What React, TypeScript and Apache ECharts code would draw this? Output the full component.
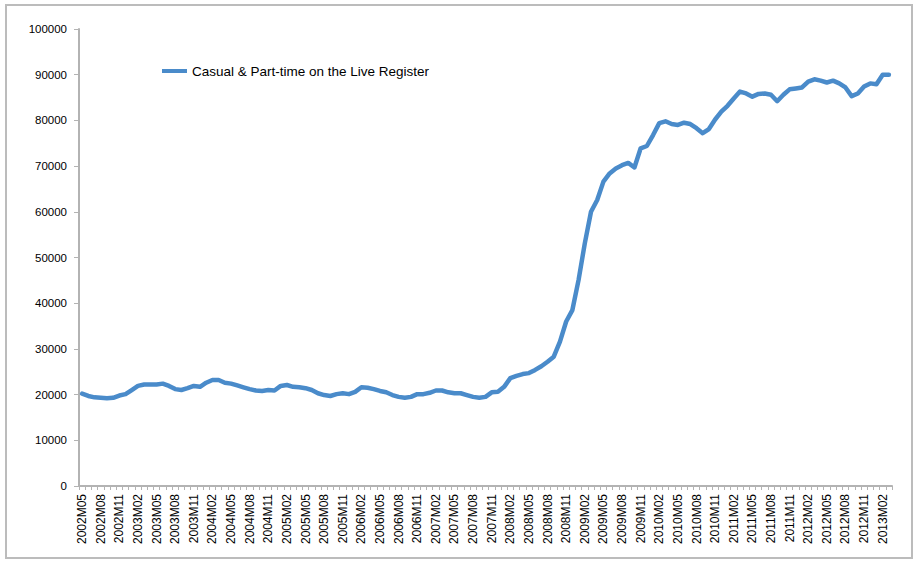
import React, { useEffect, useRef } from "react";
import * as echarts from "echarts";

const startYear = 2002;
const startMonth = 5;
const monthCount = 131;

const categories: string[] = Array.from({ length: monthCount }, (_, i) => {
  const m = startMonth - 1 + i;
  const y = startYear + Math.floor(m / 12);
  const mm = (m % 12) + 1;
  return `${y}M${mm < 10 ? "0" + mm : mm}`;
});

const seriesName = "Casual & Part-time on the Live Register";

const casualPartTime: number[] = [
  20200, 19700, 19400, 19300, 19200, 19300, 19800, 20100, 21000, 21900,
  22200, 22200, 22200, 22400, 21900, 21200, 21000, 21400, 21900, 21700,
  22600, 23200, 23200, 22600, 22400, 22000, 21600, 21200, 20900, 20800,
  21000, 20900, 21900, 22100, 21700, 21600, 21400, 21000, 20300, 19900,
  19700, 20100, 20300, 20100, 20600, 21600, 21500, 21200, 20800, 20500,
  19900, 19500, 19300, 19500, 20100, 20100, 20400, 20900, 20900, 20500,
  20300, 20300, 19900, 19500, 19300, 19500, 20500, 20600, 21700, 23600,
  24100, 24500, 24700, 25400, 26200, 27200, 28300, 31600, 36000, 38500,
  45100, 53100, 60000, 62600, 66600, 68400, 69500, 70200, 70700, 69700,
  73900, 74400, 76800, 79400, 79800, 79200, 79000, 79500, 79200, 78300,
  77200, 78100, 80200, 81900, 83200, 84800, 86300, 85900, 85200, 85800,
  85900, 85600, 84200, 85600, 86800, 87000, 87200, 88500, 89000, 88700,
  88300, 88700, 88100, 87200, 85300, 85900, 87400, 88100, 87900, 90000,
  90000,
];

const yTicks = { min: 0, max: 100000, interval: 10000 };

export default function App() {
  const ref = useRef<HTMLDivElement>(null);
  useEffect(() => {
    if (!ref.current) return;
    const chart = echarts.init(ref.current, null, { renderer: "svg" });
    chart.setOption({
      animation: false,
      backgroundColor: "#ffffff",
      textStyle: { fontFamily: "Liberation Sans, Arial, sans-serif" },
      graphic: [
        {
          type: "rect",
          shape: { x: 6, y: 5, width: 906, height: 553 },
          style: { fill: "none", stroke: "#bcbcbc", lineWidth: 2 },
          silent: true,
        },
      ],
      legend: {
        show: true,
        left: 162,
        top: 64,
        padding: 0,
        itemWidth: 25,
        itemHeight: 14,
        itemGap: 0,
        icon: "path://M0,5 L25,5 L25,9 L0,9 Z",
        textStyle: { fontSize: 13.5, color: "#000" },
        data: [seriesName],
      },
      grid: { left: 79, right: 27, top: 29, bottom: 79, containLabel: false },
      xAxis: {
        type: "category",
        data: categories,
        boundaryGap: true,
        axisLine: { lineStyle: { color: "#b3b3b3", width: 2 } },
        axisTick: { show: true, interval: 0, length: 4, lineStyle: { color: "#b3b3b3", width: 1 } },
        axisLabel: {
          interval: 2,
          rotate: 90,
          fontSize: 12,
          color: "#000",
          margin: 8,
        },
        splitLine: { show: false },
      },
      yAxis: {
        type: "value",
        min: yTicks.min,
        max: yTicks.max,
        interval: yTicks.interval,
        axisLine: { show: true, lineStyle: { color: "#b3b3b3", width: 2 } },
        axisTick: { show: true, length: 5, lineStyle: { color: "#b3b3b3", width: 1 } },
        axisLabel: { fontSize: 11.5, color: "#000", margin: 12, formatter: (v: number) => String(v) },
        splitLine: { show: false },
      },
      series: [
        {
          name: seriesName,
          type: "line",
          data: casualPartTime,
          symbol: "none",
          showSymbol: false,
          smooth: false,
          lineStyle: { color: "#4a8bca", width: 4.5, join: "round", cap: "round" },
          itemStyle: { color: "#4a8bca" },
        },
      ],
    });
    return () => chart.dispose();
  }, []);
  return (
    <div
      ref={ref}
      style={{ position: "fixed", left: 0, top: 0, width: 919, height: 565 }}
    />
  );
}
